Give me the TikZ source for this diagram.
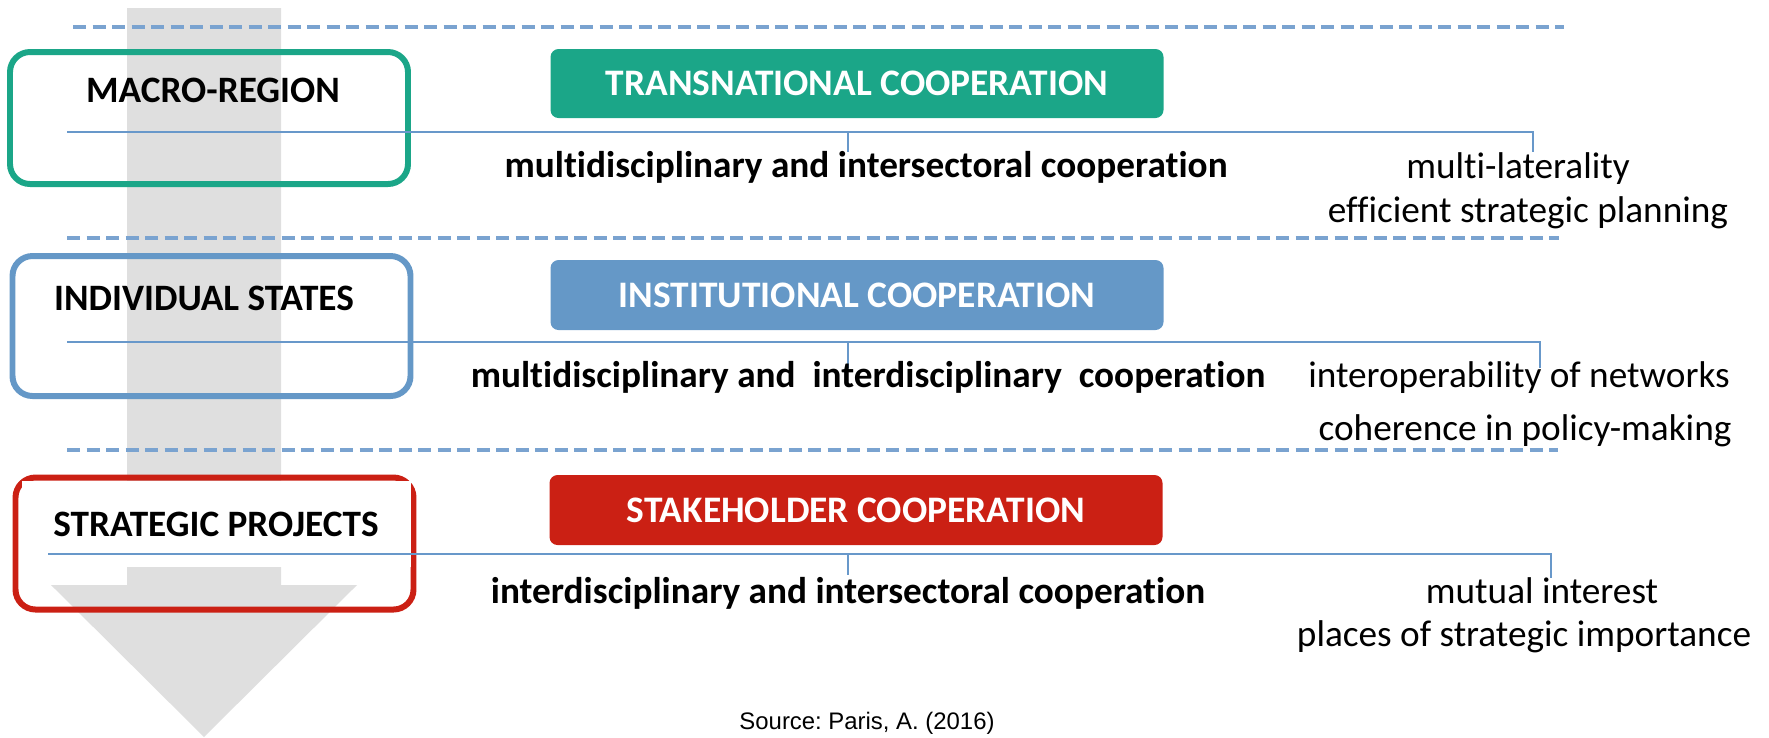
\documentclass[tikz,border=0pt]{standalone}
\usepackage{fontspec}
\setmainfont[Ligatures=NoCommon]{Carlito}
\newfontfamily\srcfont{Liberation Sans}
\definecolor{coopteal}{RGB}{27,166,136}
\definecolor{coopblue}{RGB}{101,152,199}
\definecolor{coopred}{RGB}{203,32,20}
\definecolor{sepblue}{RGB}{122,163,208}
\definecolor{linkblue}{RGB}{104,152,202}
\definecolor{flowgrey}{RGB}{223,223,223}
\frenchspacing

\begin{document}
\begin{tikzpicture}[x=0.1mm, y=-0.1mm,
  level/.style={draw, line width=1.7pt, rounded corners=2mm,
               minimum width=39.8mm, minimum height=13.2mm},
  coop/.style={rounded corners=0.8mm, minimum width=61.3mm, minimum height=6.9mm,
               text=white, font=\fontsize{10.65}{12}\selectfont\bfseries},
  tag/.style={font=\fontsize{10.6}{12}\selectfont\bfseries, anchor=base},
  kind/.style={font=\fontsize{10.6}{12}\selectfont\bfseries, anchor=base},
  aim/.style={font=\fontsize{10.6}{12}\selectfont, anchor=base},
  link/.style={draw=linkblue, line width=0.6pt},
  sep/.style={draw=sepblue, line width=0.9pt, dash pattern=on 1.3mm off 0.65mm}
]
\useasboundingbox (0,0) rectangle (1769,737);

% the big downward arrow behind everything
\fill[flowgrey] (127,8) -- (281,8) -- (281,585) -- (357,585) -- (204,737)
  -- (51,585) -- (127,585) -- cycle;

% dashed separators
\draw[sep] (73,27) -- (1564,27);
\draw[sep] (67,238) -- (1559,238);
\draw[sep] (67,450) -- (1558,450);

% levels
\node[level, draw=coopteal] (macro) at (209,118) {};
\node[level, draw=coopblue, minimum height=14mm] (states) at (211.5,326) {};
\node[level, draw=coopred] (projects) at (214.5,543.5) {};

% kinds of cooperation
\node[coop, fill=coopteal] (trans) at (857,83.5) {TRANSNATIONAL COOPERATION};
\node[coop, fill=coopblue, minimum height=7mm] (inst) at (857,295) {INSTITUTIONAL COOPERATION};
\node[coop, fill=coopred, minimum height=7mm] (stake) at (856,510) {STAKEHOLDER COOPERATION};

% level names
\node[tag] (macrotag) at (213,102) {MACRO-REGION};
\node[tag] (statestag) at (204,310) {INDIVIDUAL STATES};
\node[fill=white, minimum width=38.9mm, minimum height=8.6mm,
      font=\fontsize{10.6}{12}\selectfont\bfseries] (projectstag) at (216,524) {STRATEGIC PROJECTS};

% brackets
\coordinate (a1) at (67,132);  \coordinate (m1) at (848,132);  \coordinate (b1) at (1533,132);
\coordinate (a2) at (67,342);  \coordinate (m2) at (848,342);  \coordinate (b2) at (1540,342);
\coordinate (a3) at (48,554);  \coordinate (m3) at (848,554);  \coordinate (b3) at (1551,554);
\draw[link] (a1) -- (b1) -- ++(0,20);
\draw[link] (m1) -- ++(0,20);
\draw[link] (a2) -- (b2) -- ++(0,26);
\draw[link] (m2) -- ++(0,26);
\draw[link] (a3) -- (b3) -- ++(0,24);
\draw[link] (m3) -- ++(0,21);

% what each level does
\node[kind] (kind1) at (866,177) {multidisciplinary and intersectoral cooperation};
\node[kind] (kind2) at (868,387) {multidisciplinary and\ \ interdisciplinary\ \ cooperation};
\node[kind] (kind3) at (848,603) {interdisciplinary and intersectoral cooperation};

\node[aim] (aim1a) at (1518,178) {multi-laterality};
\node[aim] (aim1b) at (1528,222) {efficient strategic planning};
\node[aim] (aim2a) at (1519,387) {interoperability of networks};
\node[aim] (aim2b) at (1525,440) {coherence in policy-making};
\node[aim] (aim3a) at (1542,603) {mutual interest};
\node[aim] (aim3b) at (1524,646) {places of strategic importance};

\node[anchor=base, font=\srcfont\fontsize{6.8}{8}\selectfont] (source) at (867,729) {Source: Paris, A. (2016)};
\end{tikzpicture}
\end{document}
